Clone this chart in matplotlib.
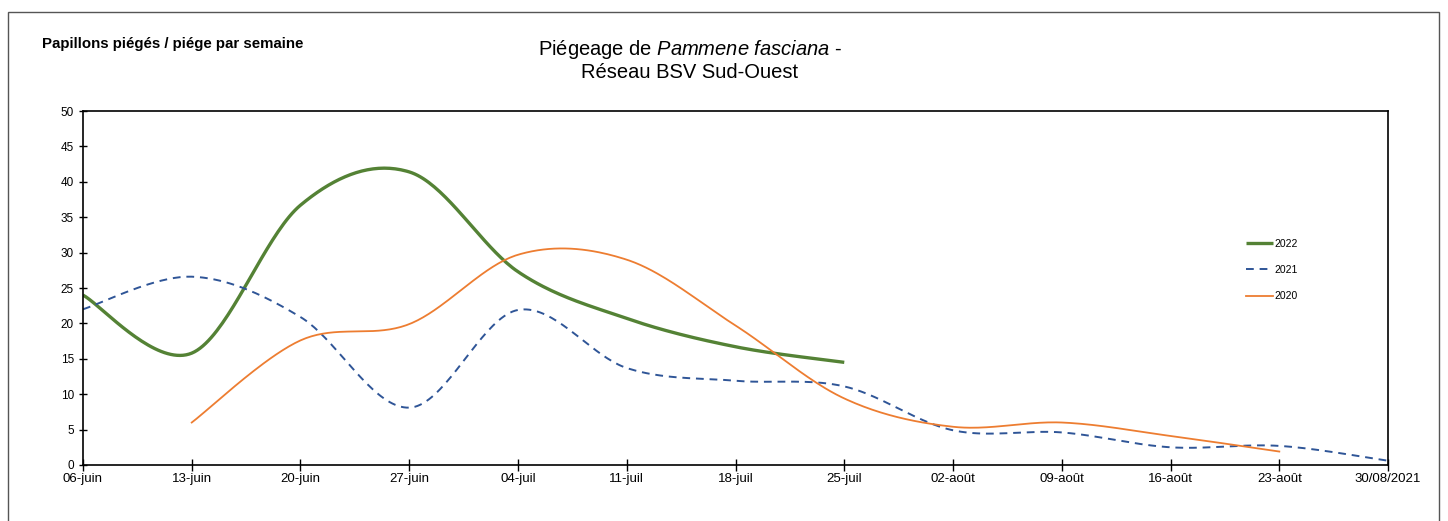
import numpy as np
import matplotlib
matplotlib.use("Agg")
import matplotlib.pyplot as plt
from matplotlib.patches import Rectangle

plt.rcParams['font.family'] = ['Liberation Sans', 'DejaVu Sans']
plt.rcParams['mathtext.fontset'] = 'custom'
plt.rcParams['mathtext.rm'] = 'Liberation Sans'
plt.rcParams['mathtext.it'] = 'Liberation Sans:italic'

weeks = ["06-juin", "13-juin", "20-juin", "27-juin", "04-juil", "11-juil", "18-juil",
         "25-juil", "02-août", "09-août", "16-août", "23-août", "30/08/2021"]

# papillons piégés / piège / semaine
y2022 = [24.0, 15.8, 36.7, 41.4, 27.3, 20.7, 16.7, 14.5]
y2021 = [22.0, 26.6, 20.9, 8.1, 21.9, 13.7, 11.9, 11.1, 4.9, 4.6, 2.5, 2.7, 0.6]
y2020 = [6.0, 17.6, 19.9, 29.7, 29.0, 19.7, 9.4, 5.4, 6.0, 4.1, 1.9]
start2022, start2021, start2020 = 0, 0, 1


def smooth(xs, ys, n=40):
    """Excel-like smoothed line (bezier through the points)."""
    xs = np.asarray(xs, float)
    ys = np.asarray(ys, float)
    px = np.concatenate([[xs[0]], xs, [xs[-1]]])
    py = np.concatenate([[ys[0]], ys, [ys[-1]]])
    outx, outy = [], []
    t = np.linspace(0, 1, n)
    for i in range(1, len(px) - 2):
        p0 = np.array([px[i], py[i]])
        p3 = np.array([px[i + 1], py[i + 1]])
        c1 = p0 + (np.array([px[i + 1], py[i + 1]]) - np.array([px[i - 1], py[i - 1]])) / 6
        c2 = p3 - (np.array([px[i + 2], py[i + 2]]) - np.array([px[i], py[i]])) / 6
        b = ((1 - t) ** 3)[:, None] * p0 + (3 * (1 - t) ** 2 * t)[:, None] * c1 \
            + (3 * (1 - t) * t ** 2)[:, None] * c2 + (t ** 3)[:, None] * p3
        outx.extend(b[:, 0])
        outy.extend(b[:, 1])
    return outx, outy


fig = plt.figure(figsize=(14.48, 5.21), dpi=100)
ax = fig.add_axes([0.0573, 0.1075, 0.9013, 0.6794])

x = np.arange(len(y2022)) + start2022
sx, sy = smooth(x, y2022)
ax.plot(sx, sy, color='#548235', lw=2.4, label='2022', solid_capstyle='butt')
x = np.arange(len(y2021)) + start2021
sx, sy = smooth(x, y2021)
ax.plot(sx, sy, color='#2F5597', lw=1.4, ls=(0, (4, 3)), label='2021')
x = np.arange(len(y2020)) + start2020
sx, sy = smooth(x, y2020)
ax.plot(sx, sy, color='#ED7D31', lw=1.3, label='2020')

ax.set_xlim(0, len(weeks) - 1)
ax.set_ylim(0, 50)
ax.set_xticks(np.arange(len(weeks)))
ax.set_xticklabels(weeks, fontsize=9.5)
ax.set_yticks(np.arange(0, 51, 5))
ax.tick_params(axis='y', labelsize=8.5, direction='inout', length=6, width=1)
ax.tick_params(axis='x', direction='inout', length=8, width=1, pad=2)
for s in ax.spines.values():
    s.set_linewidth(1.2)

ax.legend(loc='upper left', bbox_to_anchor=(0.884, 0.665), frameon=False, fontsize=7.5,
          handlelength=2.6, handletextpad=0.15, labelspacing=1.55)

fig.text(0.029, 0.915, "Papillons piégés / piége par semaine", fontsize=10.8,
         fontweight='bold', va='center', ha='left')
fig.text(0.4765, 0.885, "Piégeage de $\\mathit{Pammene\\ fasciana}$ -\nRéseau BSV Sud-Ouest",
         fontsize=14.5, ha='center', va='center', linespacing=1.15)

fig.add_artist(Rectangle((0.0055, -0.05), 0.9883, 0.977 + 0.05, transform=fig.transFigure,
                         fill=False, edgecolor='#555555', lw=1))

fig.savefig("out.png", dpi=100)
